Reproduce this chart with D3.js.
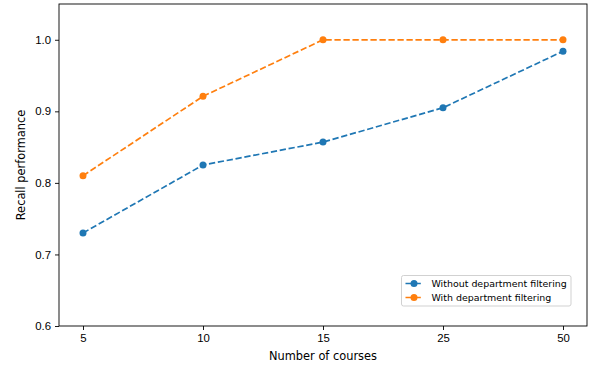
<!DOCTYPE html>
<html>
<head>
<meta charset="utf-8">
<script src="https://cdn.jsdelivr.net/npm/d3@7"></script>
<style>
  body { margin: 0; background: #fff; }
  svg { display: block; font-family: "DejaVu Sans", sans-serif; }
</style>
</head>
<body>
<svg id="chart" width="590" height="366"></svg>
<script>
// data
const courses = ['5', '10', '15', '25', '50'];
const withoutFiltering = [0.730, 0.825, 0.857, 0.905, 0.984];
const withFiltering = [0.810, 0.921, 1.000, 1.000, 1.000];
const yTicks = [0.6, 0.7, 0.8, 0.9, 1.0];

const series = [
  { name: 'Without department filtering', values: withoutFiltering, color: '#1f77b4' },
  { name: 'With department filtering', values: withFiltering, color: '#ff7f0e' }
];

const margin = { top: 4, right: 3, bottom: 40, left: 59 };
const width = 590, height = 366;
const innerW = width - margin.left - margin.right;
const innerH = height - margin.top - margin.bottom;
const dash = '6.3,2.7';

const svg = d3.select('#chart');
const g = svg.append('g').attr('transform', `translate(${margin.left},${margin.top})`);

// categorical x axis, matplotlib-like padding of 0.2 step on each side
const x = d3.scaleLinear().domain([-0.2, courses.length - 1 + 0.2]).range([0, innerW]);
const y = d3.scaleLinear().domain([0.6, 1.05]).range([innerH, 0]);

// axes
const xAxis = d3.axisBottom(x)
  .tickValues(d3.range(courses.length))
  .tickFormat(i => courses[i])
  .tickSizeOuter(0).tickSize(4).tickPadding(4);
const yAxis = d3.axisLeft(y)
  .tickValues(yTicks)
  .tickFormat(d3.format('.1f'))
  .tickSizeOuter(0).tickSize(4).tickPadding(4);

const gx = g.append('g').attr('transform', `translate(0,${innerH})`).call(xAxis);
const gy = g.append('g').call(yAxis);
[gx, gy].forEach(a => {
  a.select('.domain').remove();
  a.selectAll('.tick line').attr('stroke', '#000').attr('stroke-width', 0.9);
  a.selectAll('.tick text').attr('fill', '#000').style('font-size', '11.4px');
});

// lines and markers
const line = d3.line().x((d, i) => x(i)).y(d => y(d));
series.forEach(s => {
  g.append('path')
    .datum(s.values)
    .attr('d', line)
    .attr('fill', 'none')
    .attr('stroke', s.color)
    .attr('stroke-width', 1.7)
    .attr('stroke-dasharray', dash);
  g.append('g').selectAll('circle')
    .data(s.values)
    .join('circle')
    .attr('cx', (d, i) => x(i))
    .attr('cy', d => y(d))
    .attr('r', 3.5)
    .attr('fill', s.color);
});

// frame
g.append('rect')
  .attr('width', innerW).attr('height', innerH)
  .attr('fill', 'none').attr('stroke', '#000').attr('stroke-width', 0.9);

// axis labels
svg.append('text')
  .attr('x', margin.left + innerW / 2).attr('y', 359.5)
  .attr('text-anchor', 'middle').style('font-size', '11.4px')
  .text('Number of courses');
svg.append('text')
  .attr('transform', `translate(24.8,${margin.top + innerH / 2}) rotate(-90)`)
  .attr('text-anchor', 'middle').style('font-size', '11.4px')
  .text('Recall performance');

// legend
const legend = svg.append('g').attr('transform', 'translate(401.5,275.5)');
legend.append('rect')
  .attr('width', 169.5).attr('height', 30.5)
  .attr('rx', 2).attr('fill', '#fff').attr('fill-opacity', 0.8)
  .attr('stroke', '#ccc').attr('stroke-width', 0.9);
series.forEach((s, i) => {
  const row = legend.append('g').attr('transform', `translate(0,${8 + i * 14})`);
  row.append('line')
    .attr('x1', 4).attr('x2', 21)
    .attr('stroke', s.color).attr('stroke-width', 1.7)
    .attr('stroke-dasharray', dash);
  row.append('circle').attr('cx', 12.5).attr('r', 3.5).attr('fill', s.color);
  row.append('text')
    .attr('x', 30).attr('dy', '0.35em')
    .style('font-size', '9.45px')
    .text(s.name);
});
</script>
</body>
</html>
